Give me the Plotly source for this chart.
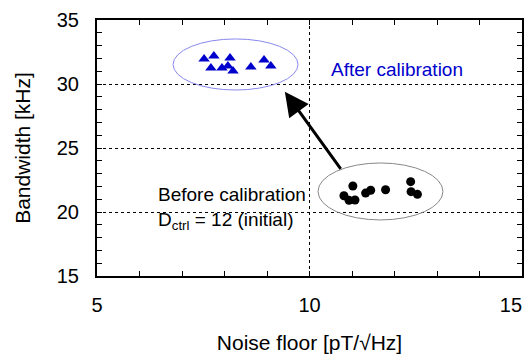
import plotly.graph_objects as go

# After calibration (triangles)
after_noise = [7.52, 7.75, 8.13, 7.68, 7.94, 8.08, 8.20, 8.62, 8.93, 9.09]
after_bw = [31.95, 32.19, 32.03, 31.25, 31.25, 31.41, 31.02, 31.33, 31.88, 31.41]

# Before calibration (dots)
before_noise = [11.02, 10.81, 10.93, 11.07, 11.32, 11.44, 11.79, 12.38, 12.39, 12.54]
before_bw = [22.03, 21.27, 20.91, 20.94, 21.48, 21.70, 21.74, 22.37, 21.59, 21.38]

x_ticks = [5, 10, 15]
x_ticktext = ["5", "10", "15\u00a0\u00a0\u00a0\u00a0"]
y_ticks = [15, 20, 25, 30, 35]

FONT = "Arial, Liberation Sans, sans-serif"

fig = go.Figure()
fig.add_trace(go.Scatter(x=after_noise, y=after_bw, mode="markers",
                         marker=dict(symbol="triangle-up", size=10, color="#0000cc"),
                         showlegend=False))
fig.add_trace(go.Scatter(x=before_noise, y=before_bw, mode="markers",
                         marker=dict(symbol="circle", size=9, color="black"),
                         showlegend=False))

# ellipses
fig.add_shape(type="circle", xref="x", yref="y", x0=6.79, x1=9.73, y0=29.53, y1=33.52,
              line=dict(color="#8888ee", width=1))
fig.add_shape(type="circle", xref="x", yref="y", x0=10.2, x1=13.14, y0=19.38, y1=23.83,
              line=dict(color="#888888", width=1))

# arrow
fig.add_annotation(x=9.42, y=29.4, ax=10.76, ay=23.26, xref="x", yref="y",
                   axref="x", ayref="y", text="", showarrow=True,
                   arrowhead=2, arrowsize=1.6, arrowwidth=3, arrowcolor="black")

fig.add_annotation(x=12.06, y=31.1, xref="x", yref="y", text="After calibration",
                   showarrow=False, font=dict(family=FONT, size=19, color="#0000cc"))
fig.add_annotation(x=9.97, y=20.3, xref="x", yref="y", xanchor="right",
                   text="Before calibration<br>D<sub>ctrl</sub> = 12 (initial)",
                   align="left", showarrow=False,
                   font=dict(family=FONT, size=19, color="black"))

axis_common = dict(showline=True, linecolor="black", linewidth=2, mirror="allticks",
                   ticks="inside", ticklen=5, tickwidth=1, tickcolor="black",
                   showgrid=True, gridcolor="black", griddash="dot", gridwidth=1,
                   zeroline=False, ticklabeloverflow="allow", automargin=False,
                   tickfont=dict(family=FONT, size=20, color="black"),
                   minor=dict(dtick=1, ticks="inside", ticklen=5, tickcolor="black",
                              tickwidth=1, showgrid=False))

fig.update_xaxes(range=[5, 15], tickvals=x_ticks, ticktext=x_ticktext, ticklabelstandoff=10,
                 title=dict(text="Noise floor [pT/√Hz]", font=dict(family=FONT, size=21, color="black"),
                            standoff=22),
                 **axis_common)
fig.update_yaxes(range=[15, 35], tickvals=y_ticks, ticklabelstandoff=12,
                 title=dict(text="Bandwidth [kHz]", font=dict(family=FONT, size=21, color="black"),
                            standoff=20),
                 **axis_common)

fig.update_layout(width=531, height=354, margin=dict(l=97, r=9, t=20, b=78),
                  plot_bgcolor="white", paper_bgcolor="white")

fig.write_html("out.html")
